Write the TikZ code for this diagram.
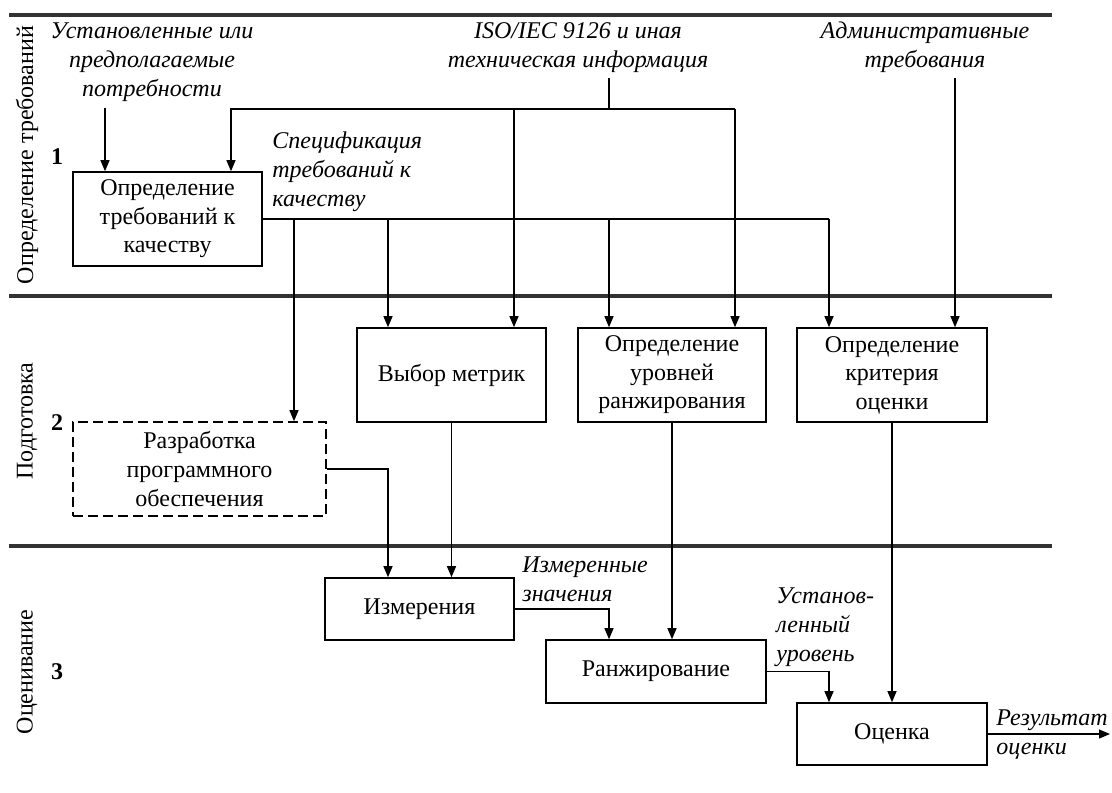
\documentclass[tikz,border=0pt]{standalone}
\usepackage{fontspec}
\setmainfont{Liberation Serif}
\usetikzlibrary{arrows.meta,calc}
\begin{document}
\begin{tikzpicture}[x=0.5pt,y=-0.5pt,
 box/.style={draw, line width=0.8pt, align=center, inner sep=0pt, font=\fontsize{12}{14.3}\selectfont},
 lbl/.style={font=\fontsize{12}{14.5}\selectfont\itshape, inner sep=0pt},
 arr/.style={line width=0.6pt, -{Triangle[length=5.5pt,width=4.5pt]}},
 ln/.style={line width=0.6pt},
 sep/.style={line width=1.6pt, draw=black!80},
 num/.style={font=\fontsize{12}{14}\selectfont\bfseries, inner sep=0pt},
 lane/.style={rotate=90, font=\fontsize{12}{14}\selectfont, inner sep=0pt}
]
\useasboundingbox (0,0) rectangle (1112,792);

% separators
\draw[sep] (9,15) -- (1052,15);
\draw[sep] (9,296) -- (1052,296);
\draw[sep] (9,546) -- (1052,546);

% lane labels
\node[lane] (l1) at (27,155) {Определение требований};
\node[lane] (l2) at (27,421) {Подготовка};
\node[lane] (l3) at (27,672) {Оценивание};
\node[num] (n1l) at (57,157) {1};
\node[num] (n2l) at (57,423) {2};
\node[num] (n3l) at (57,672) {3};

% boxes
\node[box, minimum width=94.5pt, minimum height=47pt] (b1) at (167.5,219) {Определение\\требований к\\качеству};
\node[box, minimum width=94.5pt, minimum height=47pt] (b2) at (451.5,375) {Выбор метрик};
\node[box, minimum width=94pt, minimum height=47pt] (b3) at (672,375) {Определение\\уровней\\ранжирования};
\node[box, minimum width=95pt, minimum height=47pt] (b4) at (892,375) {Определение\\критерия\\оценки};
\node[box, dash pattern=on 5pt off 2.5pt, minimum width=126.5pt, minimum height=47pt] (b5) at (199.5,469) {Разработка\\программного\\обеспечения};
\node[box, minimum width=94.5pt, minimum height=31pt] (b6) at (419.5,609) {Измерения};
\node[box, minimum width=110pt, minimum height=31.5pt] (b7) at (656,671.5) {Ранжирование};
\node[box, minimum width=95pt, minimum height=31pt] (b8) at (892,734) {Оценка};

% labels
\node[lbl, align=center] (needs) at (152,62) {Установленные или\\предполагаемые\\потребности};
\node[lbl, align=center] (iso) at (578,47.5) {ISO/IEC 9126 и иная\\техническая информация};
\node[lbl, align=center] (adm) at (925,47.5) {Административные\\требования};
\node[lbl, align=left, anchor=west] (spec) at (272,172) {Спецификация\\требований к\\качеству};
\node[lbl, align=left, anchor=west] (meas) at (522,579) {Измеренные\\значения};
\node[lbl, align=left, anchor=west] (lev) at (776,627) {Установ-\\ленный\\уровень};
\node[lbl, align=left, anchor=west] (res) at (996,735) {Результат\\оценки};

% coordinates
\coordinate (nd) at (105,108);
\coordinate (iso1) at (609,78);
\coordinate (isoL) at (231,109);
\coordinate (isoR) at (735,109);
\coordinate (iso2) at (514,109);
\coordinate (sR) at (829,219);
\coordinate (s1) at (294,219);
\coordinate (s2) at (388,219);
\coordinate (s3) at (609,219);
\coordinate (a1) at (955,78);
\coordinate (m1) at (388,469);
\coordinate (r1) at (609,609);
\coordinate (e1) at (829,671.5);
\coordinate (out) at (1110,734);

% connectors
\draw[arr] (nd) -- (nd |- b1.north);
\draw[ln] (iso1) -- (iso1 |- isoL);
\draw[arr] (isoR) -- (isoL) -- (isoL |- b1.north);
\draw[arr] (isoR) -- (isoR |- b3.north);
\draw[arr] (iso2) -- (iso2 |- b2.north);
\draw[ln] (b1.east) -- (sR);
\draw[arr] (sR) -- (sR |- b4.north);
\draw[arr] (s1) -- (s1 |- b5.north);
\draw[arr] (s2) -- (s2 |- b2.north);
\draw[arr] (s3) -- (s3 |- b3.north);
\draw[arr] (a1) -- (a1 |- b4.north);
\draw[arr] (b5.east) -- (m1) -- (m1 |- b6.north);
\draw[arr] (b2.south) -- (b2.south |- b6.north);
\draw[arr] (b6.east) -- (r1) -- (r1 |- b7.north);
\draw[arr] (b3.south) -- (b3.south |- b7.north);
\draw[arr] (b7.east) -- (e1) -- (e1 |- b8.north);
\draw[arr] (b4.south) -- (b8.north);
\draw[arr] (b8.east) -- (out);
\end{tikzpicture}
\end{document}
